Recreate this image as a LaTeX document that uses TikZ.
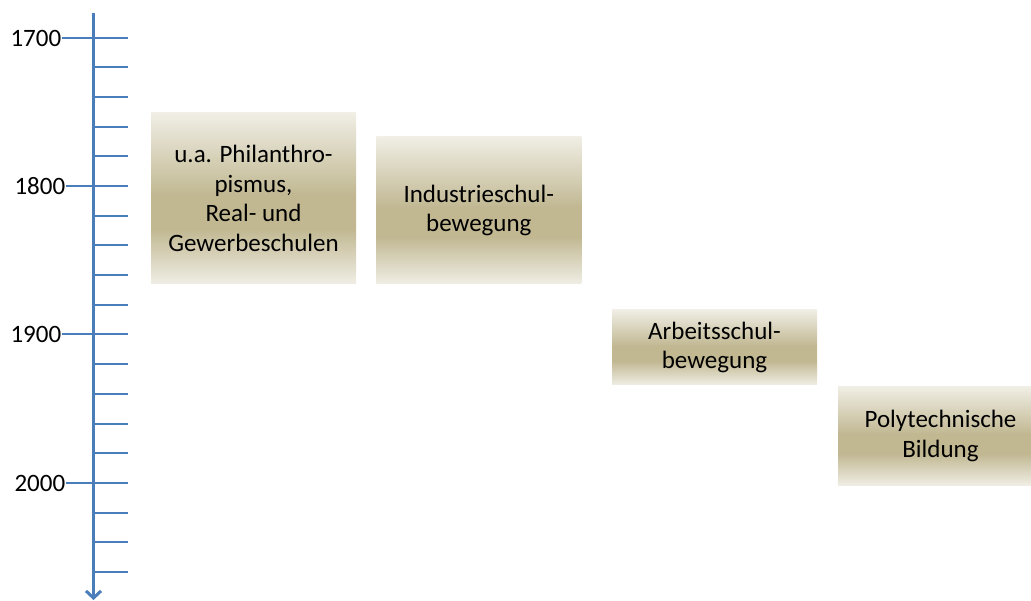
\documentclass[tikz,border=0pt]{standalone}
\usepackage{fontspec}
\setmainfont{Carlito}
\usetikzlibrary{arrows.meta}

\definecolor{axisblue}{HTML}{4A7EBB}
\definecolor{tanlight}{HTML}{F0EEE5}
\definecolor{tandark}{HTML}{C1B892}

% light at top and bottom, darkest a little below the middle
\pgfdeclareverticalshading{tanshade}{100bp}{%
  color(0bp)=(tanlight); color(25bp)=(tanlight);
  color(41bp)=(tandark); color(51bp)=(tandark);
  color(75bp)=(tanlight); color(100bp)=(tanlight)}

\tikzset{
  era/.style={shading=tanshade, minimum width=205, inner sep=0pt,
    align=center, text=black, font=\fontsize{25}{29.8}\selectfont},
  timeaxis/.style={draw=axisblue, line width=3pt,
    -{Straight Barb[length=7pt, width=15pt]}},
  minortick/.style={draw=axisblue, line width=2pt},
  majortick/.style={draw=axisblue, line width=1.6pt},
  yearlabel/.style={left, inner sep=0pt, text=black,
    font=\fontsize{25}{29}\selectfont},
}

\begin{document}
\begin{tikzpicture}[x=1pt, y=-1pt]
  \useasboundingbox (0,0) rectangle (1031,601);

  % vertical time axis, one tick every 20 years
  \coordinate (axtop) at (93.5,13);
  \coordinate (axbot) at (93.5,600);
  \draw[timeaxis] (axtop) -- (axbot);
  \foreach \k in {0,...,18} {
    \pgfmathsetmacro\ty{round(37.5+29.7*\k)}
    \draw[minortick] (93.5,\ty) -- ++(34,0);
  }

  % century marks
  \foreach \yr/\k/\xs in {1700/0/62,1800/5/66,1900/10/62,2000/15/66} {
    \pgfmathsetmacro\ty{round(37.5+29.7*\k)}
    \draw[majortick] (127.5,\ty) -- (\xs,\ty)
      node[yearlabel] (y\yr) {\yr};
  }

  % movements
  \node[era, minimum height=171] (phil) at (253.5,198.5)
    {u.a. Philanthro-\\pismus,\\Real- und\\Gewerbeschulen};
  \node[era, minimum height=147] (indu) at (478.8,210.5)
    {Industrieschul-\\bewegung};
  \node[era, minimum height=75] (arbeit) at (714.5,347.5)
    {Arbeitsschul-\\bewegung};
  \node[era, minimum height=99] (poly) at (940.5,436)
    {Polytechnische\\Bildung};
\end{tikzpicture}
\end{document}
